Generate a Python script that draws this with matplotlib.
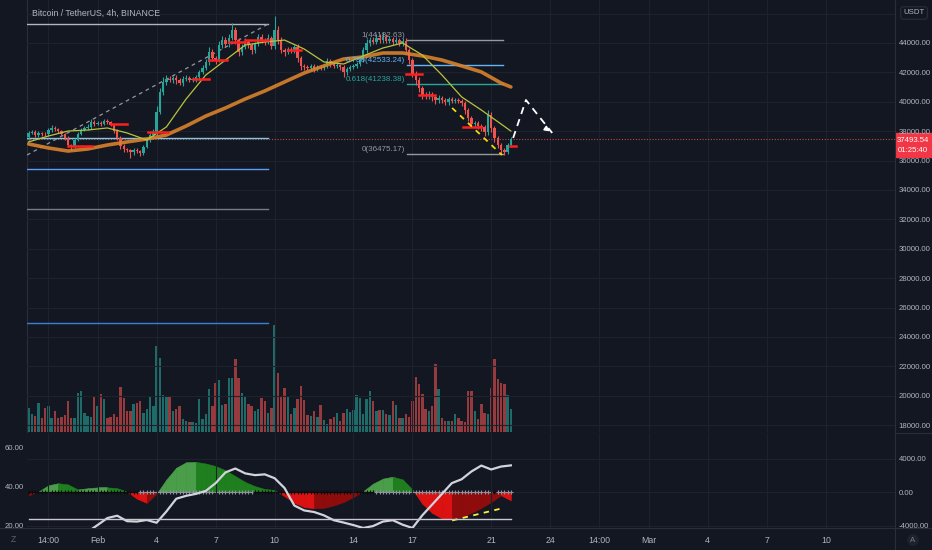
import numpy as np
import pandas as pd
import matplotlib
matplotlib.use('Agg')
import matplotlib.pyplot as plt
from matplotlib.patches import Rectangle
from matplotlib.lines import Line2D

W, H = 932, 550
BG = '#131722'
GRID = '#1e222d'
SEP = '#2a2e39'
TXT = '#b2b5be'
UP = '#26a69a'
DN = '#ef5350'

plt.rcParams['font.family'] = ['Liberation Sans', 'DejaVu Sans']

# ---- data (BTCUSDT 4h, Binance) ----
first_open = 37620
closes = [
    37880, 37950, 37740, 37880, 37810, 37800, 38080, 38220, 38150, 38010,
    37810, 37540, 37060, 36990, 37400, 37810, 38080, 38220, 38290, 38630,
    38490, 38560, 38490, 38690, 38630, 38420, 38010, 37540, 36990, 36790,
    36720, 36590, 36720, 36650, 36520, 36930, 37400, 37740, 37880, 39310,
    40670, 41350, 41550, 41480, 41620, 41480, 41280, 41550, 41620, 41480,
    41550, 41690, 42030, 42300, 42710, 43390, 42980, 42840, 43860, 44200,
    43930, 44340, 44880, 44200, 43390, 43730, 44070, 43860, 43520, 43930,
    44410, 44200, 44070, 44340, 43800, 44880, 44200, 43520, 43390, 43590,
    43520, 43730, 42980, 42440, 42370, 42300, 42440, 42230, 42370, 42300,
    42440, 42780, 42570, 42440, 42500, 42370, 42030, 42230, 42370, 42440,
    42570, 42840, 43520, 44000, 44200, 44070, 44340, 44200, 44410, 44140,
    44270, 44070, 44200, 44000, 44140, 43520, 42840, 41890, 41480, 40940,
    40460, 40390, 40530, 40330, 40120, 40260, 40120, 39990, 40190, 40050,
    40120, 40050, 39920, 39440, 38900, 38490, 38560, 38350, 38290, 37950,
    39100, 38220, 37540, 37060, 36720, 36590, 37060, 37493.54,
]
wick_hi = [
    120, 150, 100, 130, 90, 160, 140, 180, 110, 90,
    80, 100, 120, 90, 110, 120, 150, 140, 180, 200,
    150, 120, 160, 130, 140, 90, 100, 120, 110, 120,
    90, 100, 140, 120, 90, 110, 140, 150, 260, 380,
    300, 350, 250, 200, 160, 180, 150, 200, 180, 150,
    140, 160, 150, 200, 220, 350, 180, 160, 250, 260,
    180, 250, 480, 200, 150, 200, 260, 150, 140, 150,
    180, 230, 160, 260, 150, 950, 300, 180, 150, 170,
    150, 160, 200, 150, 120, 100, 140, 100, 110, 120,
    140, 170, 120, 100, 120, 90, 110, 130, 100, 120,
    140, 180, 200, 250, 200, 180, 300, 250, 330, 200,
    200, 170, 190, 150, 200, 180, 150, 120, 200, 180,
    150, 200, 180, 160, 120, 180, 150, 150, 160, 140,
    150, 160, 140, 130, 120, 130, 160, 120, 150, 140,
    340, 200, 150, 160, 140, 120, 160, 140,
]
wick_lo = [
    200, 100, 130, 120, 150, 100, 120, 110, 130, 100,
    110, 120, 150, 250, 120, 100, 90, 100, 120, 110,
    130, 100, 120, 90, 110, 100, 150, 160, 180, 200,
    150, 400, 200, 150, 220, 120, 100, 130, 150, 120,
    150, 200, 180, 160, 200, 300, 150, 200, 150, 160,
    120, 180, 140, 160, 150, 200, 220, 300, 150, 200,
    180, 220, 150, 250, 300, 200, 150, 220, 300, 180,
    150, 200, 180, 160, 230, 200, 250, 200, 280, 150,
    200, 180, 250, 300, 200, 150, 160, 200, 150, 140,
    160, 150, 180, 150, 140, 200, 350, 200, 150, 140,
    140, 150, 160, 200, 180, 160, 150, 200, 180, 160,
    150, 200, 160, 180, 200, 250, 300, 200, 350, 300,
    250, 180, 200, 300, 250, 200, 220, 200, 180, 150,
    160, 150, 200, 250, 220, 200, 180, 220, 250, 250,
    200, 300, 250, 220, 300, 210, 160, 150,
]
volumes = [
    3600, 2700, 2400, 4350, 2100, 3600, 3900, 2100, 3150, 2100,
    2250, 2550, 4650, 2100, 2100, 5850, 6150, 2850, 2400, 2250,
    5250, 3900, 5700, 4950, 2100, 2250, 2700, 2250, 6750, 5100,
    3150, 3150, 4200, 4350, 4650, 2850, 3450, 5250, 3900, 12900,
    11100, 5550, 5400, 5250, 3150, 3450, 3900, 1950, 1650, 1500,
    1500, 1350, 4950, 1950, 2700, 6450, 3900, 7350, 7800, 4050,
    4200, 8100, 8100, 10950, 8100, 5850, 5250, 4200, 3900, 3150,
    3450, 5100, 4650, 2850, 3600, 16050, 8850, 5400, 6600, 5400,
    2700, 3600, 4950, 6900, 4800, 2550, 2400, 3150, 2250, 4050,
    1800, 1200, 1950, 2250, 2850, 1650, 2850, 3450, 3000, 3300,
    5550, 5100, 2700, 4950, 6150, 4650, 3150, 3300, 3300, 2700,
    2550, 4650, 4050, 2100, 2100, 2700, 2250, 4650, 8250, 7200,
    5700, 3450, 3150, 3900, 10200, 6450, 2100, 1650, 1650, 1650,
    2700, 2100, 1650, 1500, 6150, 6150, 3150, 1950, 4200, 2850,
    2700, 6600, 10950, 7950, 7350, 7200, 5550, 3450,
]

# moving averages, read once a day
ma_bars = list(range(0, 148, 6)) + [147]
ma_fast = [37270, 37670, 38010, 38080, 38220, 37880, 37400, 38290, 40190, 41820,
           42840, 43860, 44070, 44200, 43590, 42710, 42570, 43120, 43660, 44000,
           43180, 41820, 40330, 39440, 38490, 38010]
ma_slow = [37130, 36860, 36650, 36790, 37060, 37270, 37470, 37740, 38350, 39030,
           39580, 40190, 40740, 41350, 41960, 42440, 42910, 43050, 43320, 43320,
           43120, 42840, 42440, 42030, 41280, 41010]

# lower pane: squeeze momentum (right scale) and ADX (left scale), every 3 bars
osc_bars = list(range(0, 148, 3))
momentum = [-400, 50, 800, 1050, 900, 300, 450, 550, 550, 450,
            50, -800, -1300, -200, 1500, 2900, 3550, 3600, 3400, 3100,
            2600, 1900, 1200, 700, 350, 250, -500, -1300, -1800, -1950,
            -1900, -1600, -1200, -600, 100, 1000, 1600, 1830, 1500, 300,
            -1400, -2500, -3150, -3250, -3000, -2500, -1900, -1200, -400, -1000]
adx = [12, 12, 13, 13, 14, 15, 16.5, 20, 23.6, 24.8,
       22, 21.8, 22.6, 21.2, 27, 33.5, 35, 36, 37.5, 41.5,
       47, 49, 46.5, 45.6, 46, 44, 39, 30, 27.5, 26.7,
       25, 22.5, 21.3, 20, 18.5, 19.5, 21.8, 22.5, 20.2, 18.5,
       25, 30.5, 36, 41.5, 43.5, 47.5, 50.5, 48.5, 50, 50.6]
adx_level = 23
squeeze_off = [(34, 68), (106, 141), (143, 147)]

# drawings
fib_levels = [44182.63, 42533.24, 41238.38, 36475.17]
fib_names = ['1(44182.63)', '0.786(42533.24)', '0.618(41238.38)', '0(36475.17)']
fib_colors = ['#9598a1', '#64b5f6', '#26a69a', '#9598a1']
left_levels = [45290, 37540, 35430, 32710, 24950]
left_colors = ['#b2b5be', '#7ec8e3', '#5b9cf6', '#787b86', '#3d7dd8']
pivot_start = [12, 25, 36.5, 50, 55, 61, 66, 79, 115, 119, 132.5, 146.8]
pivot_end = [19.3, 30, 42.5, 55, 60.5, 66, 73, 83, 120, 124, 138, 148.6]
pivot_price = [36990, 38490, 37950, 41550, 42840, 44050, 44200, 43520, 41890, 40460, 38290, 36990]

tick_times = ['2022-01-29 14:00', '2022-02-01 02:00', '2022-02-04 02:00', '2022-02-07 02:00',
              '2022-02-10 02:00', '2022-02-14 02:00', '2022-02-17 02:00', '2022-02-21 02:00',
              '2022-02-24 02:00', '2022-02-26 14:00', '2022-03-01 02:00', '2022-03-04 02:00',
              '2022-03-07 02:00', '2022-03-10 02:00']
tick_labels = ['14:00', 'Feb', '4', '7', '10', '14', '17', '21', '24', '14:00', 'Mar', '4', '7', '10']

# ---- figure ----
bar_times = pd.date_range('2022-01-28 14:00', periods=len(closes), freq='4h')
tick_pos = (pd.to_datetime(tick_times) - bar_times[0]) / pd.Timedelta('4h')

fig = plt.figure(figsize=(W / 100, H / 100), dpi=100, facecolor=BG)


def fx(x):
    return x / W


def fy(y):
    return 1 - y / H


main_rect = [fx(27), fy(432), (895 - 27) / W, 432 / H]
ind_rect = [fx(27), fy(528), (895 - 27) / W, (528 - 433) / H]

axv = fig.add_axes(main_rect, facecolor=BG)
ax = fig.add_axes(main_rect, sharex=axv)
ax2 = fig.add_axes(ind_rect, sharex=axv, facecolor=BG)
ax2m = ax2.twinx()
ax.patch.set_alpha(0)
axv.set_zorder(1)
ax.set_zorder(2)

for a in (axv, ax, ax2, ax2m):
    for s in a.spines.values():
        s.set_visible(False)

axv.set_xlim(-0.5, 264.1)

# candles
idx = np.arange(len(closes))
c = np.array(closes)
o = np.array([first_open] + closes[:-1])
hi = np.maximum(o, c) + np.array(wick_hi)
lo = np.minimum(o, c) - np.array(wick_lo)
colors = np.where(c >= o, UP, DN)
ax.vlines(idx, lo, hi, colors=colors, lw=0.8, zorder=4)
ax.bar(idx, np.maximum(np.abs(c - o), 30), bottom=np.minimum(o, c), width=0.74,
       color=colors, linewidth=0, zorder=5)

# volume
axv.bar(idx, volumes, width=0.74, color=colors, alpha=0.6, linewidth=0)
axv.set_ylim(0, 64800)
axv.set_yticks([])
axv.tick_params(axis='x', length=0, labelbottom=False)

# moving averages
ax.plot(ma_bars, ma_slow, color='#d9822b', lw=2.6, alpha=0.9, solid_capstyle='round', zorder=6)
ax.plot(ma_bars, ma_fast, color='#b8c43a', lw=0.9, zorder=6)

# left horizontal drawings and dashed diagonal
for lvl, col in zip(left_levels, left_colors):
    ax.plot([-0.5, 73], [lvl, lvl], color=col, lw=1, zorder=3)
ax.plot([-0.5, 73], [36380, 45290], color='#9598a1', lw=0.9, ls=(0, (3, 3)), zorder=3)

# fib retracement
for lvl, name, col in zip(fib_levels, fib_names, fib_colors):
    ax.plot([115.3, 144.6], [lvl, lvl], color=col, lw=1, zorder=3)
    ax.text(114.8, lvl + 60, name, color=col, fontsize=5.8, ha='right', va='bottom', zorder=7)

# pivot segments
for s, e, p in zip(pivot_start, pivot_end, pivot_price):
    ax.plot([s, e], [p, p], color='#ff1f1f', lw=1.8, zorder=6)

# trend line and projection
ax.plot([129.1, 144.3], [39580, 36380], color='#f5d90a', lw=1.3, ls=(0, (3, 3)), zorder=7)
ax.plot([147.7, 151.6, 159.6], [37540, 40120, 37880], color='white', lw=1.3,
        ls=(0, (4, 3)), zorder=7)
ax.annotate('', xy=(159.6, 37880), xytext=(157.2, 38250),
            arrowprops=dict(arrowstyle='-|>', color='white', lw=1.2, mutation_scale=7), zorder=7)

# last price line
ax.axhline(closes[-1], color=DN, lw=0.8, ls=(0, (1, 1.5)), alpha=0.8, zorder=2)

ax.set_ylim(17536, 46925)
ax.set_yticks(range(18000, 45000, 2000))
ax.yaxis.set_major_formatter(matplotlib.ticker.FormatStrFormatter('%.2f'))
ax.yaxis.tick_right()
ax.tick_params(axis='y', length=0, labelsize=5.6, labelcolor=TXT, pad=2.5)
ax.tick_params(axis='x', length=0, labelbottom=False)
ax.grid(True, color=GRID, lw=0.8)
ax.axhline(46000, color=GRID, lw=0.8, zorder=0)
ax.set_axisbelow(True)

# lower pane: momentum area coloured by sign and direction
xs = np.array(osc_bars, dtype=float)
mom = np.array(momentum, dtype=float)
for k in range(len(xs) - 1):
    x0, x1, m0, m1 = xs[k], xs[k + 1], mom[k], mom[k + 1]
    rising = m1 >= m0
    pieces = [(x0, x1, m0, m1)]
    if m0 * m1 < 0:
        xc = x0 + (x1 - x0) * m0 / (m0 - m1)
        pieces = [(x0, xc, m0, 0.0), (xc, x1, 0.0, m1)]
    for a0, a1, v0, v1 in pieces:
        if v0 + v1 >= 0:
            col = '#4a9e4a' if rising else '#1f7f1f'
        else:
            col = '#8e0c0c' if rising else '#dc1212'
        ax2m.fill_between([a0, a1], [0, 0], [v0, v1], color=col, lw=0.4, edgecolor=col)
sq_col = np.array(['#0c0c0c'] * len(closes), dtype=object)
for s, e in squeeze_off:
    sq_col[s:e + 1] = '#8f939c'
ax2m.scatter(idx, np.zeros(len(idx)), marker='+', s=9, c=list(sq_col), linewidths=0.8, zorder=4)
ax2m.plot([129.1, 144.3], [-3400, -1950], color='#ffeb3b', lw=1.3, ls=(0, (3, 3)), zorder=5)
ax2m.set_ylim(-4298, 7045)
ax2m.set_yticks([-4000, 0, 4000])
ax2m.yaxis.set_major_formatter(matplotlib.ticker.FormatStrFormatter('%.2f'))
ax2m.tick_params(axis='y', length=0, labelsize=5.6, labelcolor=TXT, pad=2.5)
ax2m.grid(True, axis='y', color=GRID, lw=0.8)

ax2.plot(osc_bars, adx, color='#d1d4dc', lw=1.6, zorder=3)
ax2.plot([0, 147], [adx_level, adx_level], color='#c7c9cf', lw=1, zorder=3)
ax2.set_ylim(18.5, 67.2)
ax2.set_yticks([20, 40, 60])
ax2.yaxis.set_major_formatter(matplotlib.ticker.FormatStrFormatter('%.2f'))
ax2.tick_params(axis='y', length=0, labelsize=5.6, labelcolor=TXT, pad=2)
ax2.set_xticks(tick_pos)
ax2.set_xticklabels(tick_labels)
ax2.tick_params(axis='x', length=0, labelsize=6.3, labelcolor=TXT, pad=6)
ax2.grid(True, axis='x', color=GRID, lw=0.8)
ax.grid(True, axis='x', color=GRID, lw=0.8)
ax2.set_zorder(3)
ax2m.set_zorder(2)
ax2.patch.set_alpha(0)
ax2m.patch.set_visible(True)
ax2m.patch.set_facecolor(BG)

# separators
for (x0, y0, x1, y1) in [(27, 432.5, 932, 432.5), (0, 528, 932, 528), (895, 0, 895, 550), (27, 0, 27, 528)]:
    fig.add_artist(Line2D([fx(x0), fx(x1)], [fy(y0), fy(y1)], color=SEP, lw=0.8))

# header and badges
fig.text(fx(32), fy(13), 'Bitcoin / TetherUS, 4h, BINANCE', color=TXT, fontsize=6.3, va='center')
fig.text(fx(914), fy(13), 'USDT', color=TXT, fontsize=5.6, ha='center', va='center',
         bbox=dict(boxstyle='round,pad=0.35', fc=BG, ec=SEP, lw=0.8))
fig.add_artist(Rectangle((fx(895), fy(157)), 37 / W, 24 / H, color='#f23645', transform=fig.transFigure))
fig.text(fx(913), fy(140), '37493.54', color='white', fontsize=5.6, ha='center', va='center')
fig.text(fx(913), fy(150.5), '01:25:40', color='white', fontsize=5.6, ha='center', va='center')
fig.text(fx(13), fy(540), 'Z', color='#5d606b', fontsize=6.3, ha='center', va='center')
fig.text(fx(913), fy(540), 'A', color='#787b86', fontsize=5.6, ha='center', va='center',
         bbox=dict(boxstyle='circle,pad=0.3', fc='#1e222d', ec='none'))

fig.savefig('out.png', dpi=100, facecolor=BG)
